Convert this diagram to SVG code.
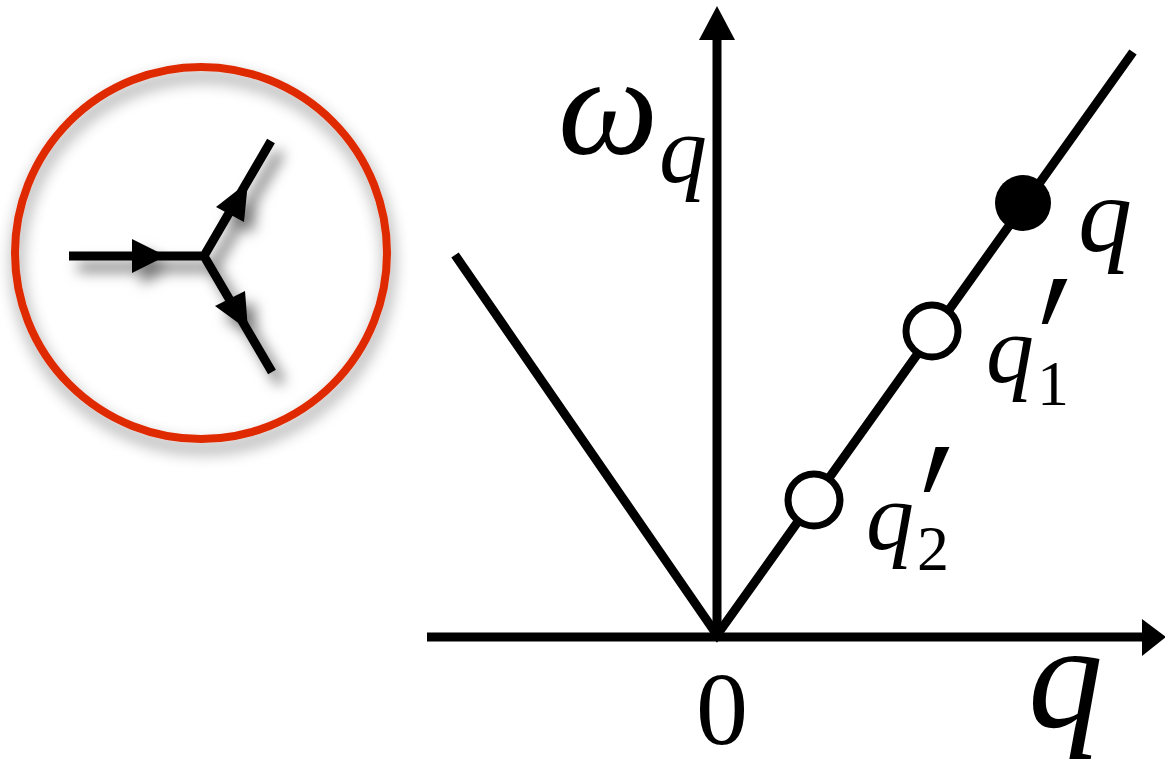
<svg xmlns="http://www.w3.org/2000/svg" width="1165" height="761" viewBox="0 0 1165 761">
<defs>
<filter id="ringShadow" x="-20%" y="-20%" width="140%" height="140%">
<feDropShadow dx="2" dy="9" stdDeviation="8" flood-color="#000" flood-opacity="0.45"/>
</filter>
<filter id="arrShadow" x="-30%" y="-30%" width="160%" height="160%">
<feDropShadow dx="9" dy="11" stdDeviation="7" flood-color="#000" flood-opacity="0.55"/>
</filter>
</defs>
<style>
.ax{stroke:#000;stroke-width:9;fill:none;stroke-linecap:butt}
.ln{stroke:#000;stroke-width:9;fill:none}
.ah{fill:#000}
.open{fill:#fff;stroke:#000;stroke-width:7}
.lbl{font-family:"Liberation Serif","DejaVu Serif",serif;font-style:italic;fill:#000}
.num{font-family:"Liberation Serif","DejaVu Serif",serif;fill:#000}
.pr{font-family:"DejaVu Serif",serif;fill:#000}
</style>
<rect width="1165" height="761" fill="#fff"/>

<g id="vertex-icon">
<circle cx="201" cy="253" r="186" fill="none" stroke="#df2a06" stroke-width="8" filter="url(#ringShadow)"/>
<g filter="url(#arrShadow)">
<path class="ln" d="M69 256 H204 L271 141 M204 256 L272 372" stroke-width="7"/>
<polygon class="ah" points="132,239 166,256 132,273"/>
<polygon class="ah" points="216,207 248,182 244,222"/>
<polygon class="ah" points="215,306 245,291 248,330"/>
</g>
</g>

<g id="connectors">
<line class="ax" x1="427" y1="637" x2="1145" y2="637"/>
<polygon class="ah" points="1142,619 1166,637 1142,656"/>
<line class="ax" x1="717" y1="637" x2="717" y2="36"/>
<polygon class="ah" points="699,40 717,6 735,40"/>
<path class="ln" d="M455 255 L717 635 L1133 52"/>
</g>

<g id="node-q">
<circle cx="1023" cy="203" r="28" fill="#000"/>
<text class="lbl" x="1078" y="251" font-size="108">q</text>
</g>
<g id="node-q1">
<circle class="open" cx="932" cy="331" r="26"/>
<text class="lbl" x="986" y="382" font-size="96">q</text>
<text class="pr" font-size="140" transform="translate(1039 458) scale(1 1.75)">′</text>
<text class="num" x="1037" y="405" font-size="64">1</text>
</g>
<g id="node-q2">
<circle class="open" cx="814" cy="500" r="26"/>
<text class="lbl" x="866" y="549" font-size="96">q</text>
<text class="pr" font-size="140" transform="translate(921 626) scale(1 1.75)">′</text>
<text class="num" x="917" y="570" font-size="64">2</text>
</g>
<g id="label-omega">
<text class="lbl" x="558" y="154" font-size="142">ω</text>
<text class="lbl" x="659" y="182" font-size="96">q</text>
</g>
<g id="label-zero">
<text class="num" x="696" y="744" font-size="104">0</text>
</g>
<g id="label-q-axis">
<text class="lbl" x="1028" y="727" font-size="150">q</text>
</g>
</svg>
